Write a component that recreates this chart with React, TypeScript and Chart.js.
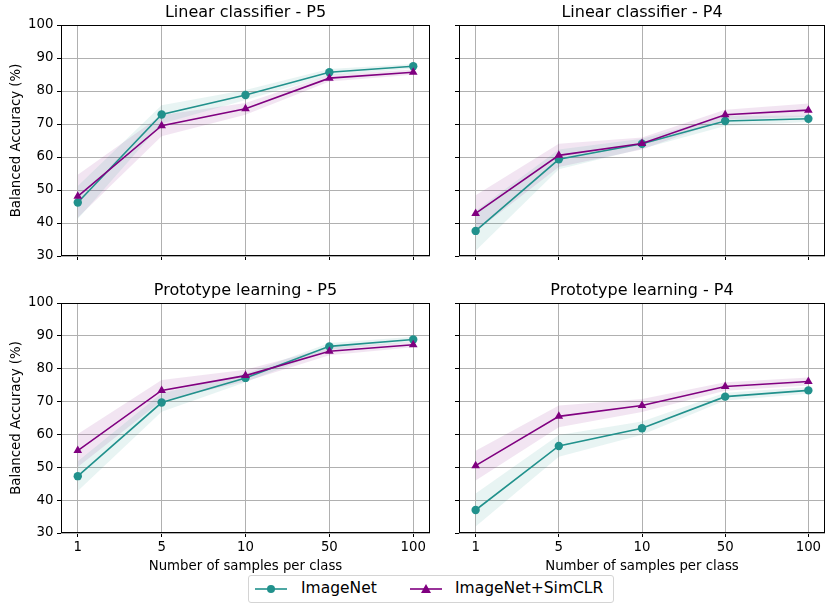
import React, { useEffect, useRef } from "react";
import { Chart, registerables } from "chart.js";
Chart.register(...registerables);

// ---------- data ----------
const xLabels = ["1", "5", "10", "50", "100"];
const yTickValues = [30, 40, 50, 60, 70, 80, 90, 100];

const seriesNames = ["ImageNet", "ImageNet+SimCLR"];

// Linear classifier - P5
const lcP5ImageNet = [46.2, 72.9, 78.8, 85.7, 87.5];
const lcP5ImageNetStd = [5.0, 2.8, 1.5, 1.0, 0.7];
const lcP5SimCLR = [48.1, 69.5, 74.6, 83.9, 85.7];
const lcP5SimCLRStd = [6.5, 3.2, 1.8, 1.0, 0.8];

// Linear classifier - P4
const lcP4ImageNet = [37.6, 59.3, 64.0, 70.9, 71.6];
const lcP4ImageNetStd = [6.0, 3.0, 1.5, 1.5, 1.0];
const lcP4SimCLR = [42.9, 60.5, 64.1, 72.8, 74.2];
const lcP4SimCLRStd = [5.5, 3.5, 1.8, 1.5, 2.0];

// Prototype learning - P5
const plP5ImageNet = [47.3, 69.7, 77.2, 86.8, 88.9];
const plP5ImageNetStd = [4.5, 2.8, 1.3, 1.0, 0.8];
const plP5SimCLR = [55.1, 73.4, 77.9, 85.3, 87.3];
const plP5SimCLRStd = [5.0, 3.2, 1.8, 1.2, 0.8];

// Prototype learning - P4
const plP4ImageNet = [37.0, 56.5, 61.9, 71.5, 73.4];
const plP4ImageNetStd = [5.0, 3.3, 2.0, 1.2, 1.0];
const plP4SimCLR = [50.5, 65.5, 68.8, 74.6, 76.1];
const plP4SimCLRStd = [4.5, 3.3, 2.0, 1.3, 1.2];

const TEAL = "#21918c";
const PURPLE = "#800080";
const TEAL_BAND = "rgba(33,145,140,0.1)";
const PURPLE_BAND = "rgba(128,0,128,0.1)";
const FONT = "'DejaVu Sans', sans-serif";

const framePlugin = {
  id: "frame",
  afterDraw(chart: any) {
    const { ctx, chartArea } = chart;
    const l = Math.round(chartArea.left) + 0.5;
    const t = Math.round(chartArea.top) + 0.5;
    const r = Math.round(chartArea.right) - 0.5;
    const b = Math.round(chartArea.bottom) - 0.5;
    ctx.save();
    ctx.strokeStyle = "#000";
    ctx.lineWidth = 1;
    ctx.strokeRect(l, t, r - l, b - t);
    ctx.restore();
  },
};

const makeTitlePlugin = (text: string) => ({
  id: "panelTitle",
  afterDraw(chart: any) {
    const { ctx, chartArea } = chart;
    ctx.save();
    ctx.font = `16px ${FONT}`;
    ctx.fillStyle = "#000";
    ctx.textAlign = "center";
    ctx.textBaseline = "middle";
    ctx.fillText(text, (chartArea.left + chartArea.right) / 2, chartArea.top - 12);
    ctx.restore();
  },
});

const toPts = (arr: number[]) => arr.map((v, i) => ({ x: i, y: v }));
const offsetPts = (arr: number[], sd: number[], sign: number) =>
  arr.map((v, i) => ({ x: i, y: v + sign * sd[i] }));

type PanelProps = {
  title: string;
  imagenet: number[];
  imagenetStd: number[];
  simclr: number[];
  simclrStd: number[];
  left: number;
  top: number;
  width: number;
  height: number;
  padTop: number;
  isLeft: boolean;
  isBottom: boolean;
};

function Panel(p: PanelProps) {
  const ref = useRef<HTMLCanvasElement | null>(null);
  useEffect(() => {
    if (!ref.current) return;
    const yWidth = p.isLeft ? 61 : 19;
    const xHeight = p.isBottom ? 47 : 6;
    const chart = new Chart(ref.current, {
      type: "line",
      data: {
        datasets: [
          {
            label: seriesNames[1],
            data: toPts(p.simclr),
            borderColor: PURPLE,
            backgroundColor: PURPLE,
            borderWidth: 1.6,
            pointStyle: "triangle",
            pointRadius: 5,
            pointBorderWidth: 0,
            fill: false,
          },
          {
            label: seriesNames[0],
            data: toPts(p.imagenet),
            borderColor: TEAL,
            backgroundColor: TEAL,
            borderWidth: 1.6,
            pointStyle: "circle",
            pointRadius: 4.2,
            pointBorderWidth: 0,
            fill: false,
          },
          {
            label: "imLow",
            data: offsetPts(p.imagenet, p.imagenetStd, -1),
            borderWidth: 0,
            borderColor: "rgba(0,0,0,0)",
            pointRadius: 0,
            fill: false,
          },
          {
            label: "imHigh",
            data: offsetPts(p.imagenet, p.imagenetStd, 1),
            borderWidth: 0,
            borderColor: "rgba(0,0,0,0)",
            backgroundColor: TEAL_BAND,
            pointRadius: 0,
            fill: "-1",
          },
          {
            label: "scLow",
            data: offsetPts(p.simclr, p.simclrStd, -1),
            borderWidth: 0,
            borderColor: "rgba(0,0,0,0)",
            pointRadius: 0,
            fill: false,
          },
          {
            label: "scHigh",
            data: offsetPts(p.simclr, p.simclrStd, 1),
            borderWidth: 0,
            borderColor: "rgba(0,0,0,0)",
            backgroundColor: PURPLE_BAND,
            pointRadius: 0,
            fill: "-1",
          },
        ],
      },
      options: {
        animation: false,
        responsive: false,
        events: [],
        layout: { padding: { left: 0, right: p.isLeft ? 10 : 3, top: p.padTop, bottom: 0 } },
        plugins: {
          legend: { display: false },
          tooltip: { enabled: false },
          title: { display: false },
        },
        scales: {
          x: {
            type: "linear",
            min: -0.2,
            max: 4.2,
            afterBuildTicks: (s: any) => {
              s.ticks = xLabels.map((_, i) => ({ value: i }));
            },
            afterFit: (s: any) => {
              s.height = xHeight;
              s.paddingLeft = 0;
              s.paddingRight = 0;
            },
            ticks: {
              display: p.isBottom,
              autoSkip: false,
              maxRotation: 0,
              padding: 3,
              color: "#000",
              font: { family: FONT, size: 13.3 },
              callback: (v: any) => xLabels[Math.round(Number(v))] ?? "",
            },
            grid: {
              color: "#b0b0b0",
              lineWidth: 1,
              drawTicks: true,
              tickLength: 4,
              tickColor: "#000",
              tickWidth: 1,
            },
            border: { display: false },
            title: {
              display: p.isBottom,
              text: "Number of samples per class",
              color: "#000",
              font: { family: FONT, size: 13.3 },
              padding: { top: 0, bottom: 5 },
            },
          },
          y: {
            type: "linear",
            min: 30,
            max: 100,
            afterBuildTicks: (s: any) => {
              s.ticks = yTickValues.map((v) => ({ value: v }));
            },
            afterFit: (s: any) => {
              s.width = yWidth;
              s.paddingTop = 0;
              s.paddingBottom = 0;
            },
            ticks: {
              display: p.isLeft,
              padding: 3.5,
              color: "#000",
              font: { family: FONT, size: 13.3 },
            },
            grid: {
              color: "#b0b0b0",
              lineWidth: 1,
              drawTicks: true,
              tickLength: 4,
              tickColor: "#000",
              tickWidth: 1,
            },
            border: { display: false },
            title: {
              display: p.isLeft,
              text: "Balanced Accuracy (%)",
              color: "#000",
              font: { family: FONT, size: 13.3 },
              padding: { top: 9, bottom: 0 },
            },
          },
        },
      },
      plugins: [framePlugin, makeTitlePlugin(p.title)],
    } as any);
    return () => chart.destroy();
  }, []);
  return (
    <canvas
      ref={ref}
      width={p.width}
      height={p.height}
      style={{ position: "absolute", left: p.left, top: p.top, width: p.width, height: p.height }}
    />
  );
}

function LegendIcon({ color, marker }: { color: string; marker: "circle" | "triangle" }) {
  return (
    <svg width={32} height={12} style={{ display: "block" }}>
      <line x1={0} y1={6} x2={32} y2={6} stroke={color} strokeWidth={1.6} />
      {marker === "circle" ? (
        <circle cx={16} cy={6} r={4} fill={color} />
      ) : (
        <polygon points="16,1 21,10 11,10" fill={color} />
      )}
    </svg>
  );
}

export default function App() {
  return (
    <div
      style={{
        position: "absolute",
        left: 0,
        top: 0,
        width: 826,
        height: 604,
        overflow: "hidden",
        background: "#fff",
      }}
    >
      <Panel title="Linear classifier - P5" imagenet={lcP5ImageNet} imagenetStd={lcP5ImageNetStd} simclr={lcP5SimCLR} simclrStd={lcP5SimCLRStd} left={0} top={0} width={440} height={262} padTop={25} isLeft={true} isBottom={false} />
      <Panel title="Linear classifier - P4" imagenet={lcP4ImageNet} imagenetStd={lcP4ImageNetStd} simclr={lcP4SimCLR} simclrStd={lcP4SimCLRStd} left={440} top={0} width={390} height={262} padTop={25} isLeft={false} isBottom={false} />
      <Panel title="Prototype learning - P5" imagenet={plP5ImageNet} imagenetStd={plP5ImageNetStd} simclr={plP5SimCLR} simclrStd={plP5SimCLRStd} left={0} top={277} width={440} height={303} padTop={26} isLeft={true} isBottom={true} />
      <Panel title="Prototype learning - P4" imagenet={plP4ImageNet} imagenetStd={plP4ImageNetStd} simclr={plP4SimCLR} simclrStd={plP4SimCLRStd} left={440} top={277} width={390} height={303} padTop={26} isLeft={false} isBottom={true} />
      <div
        style={{
          position: "absolute",
          left: 248,
          top: 575,
          width: 364,
          height: 26,
          border: "1px solid #d4d4d4",
          borderRadius: 3,
          background: "#fff",
          fontFamily: FONT,
          fontSize: 15.5,
          color: "#000",
        }}
      >
        <div style={{ position: "absolute", left: 6, top: 7 }}>
          <LegendIcon color={TEAL} marker="circle" />
        </div>
        <div style={{ position: "absolute", left: 52, top: 3, lineHeight: "18px", whiteSpace: "nowrap" }}>{seriesNames[0]}</div>
        <div style={{ position: "absolute", left: 161, top: 7 }}>
          <LegendIcon color={PURPLE} marker="triangle" />
        </div>
        <div style={{ position: "absolute", left: 206, top: 3, lineHeight: "18px", whiteSpace: "nowrap" }}>{seriesNames[1]}</div>
      </div>
    </div>
  );
}
